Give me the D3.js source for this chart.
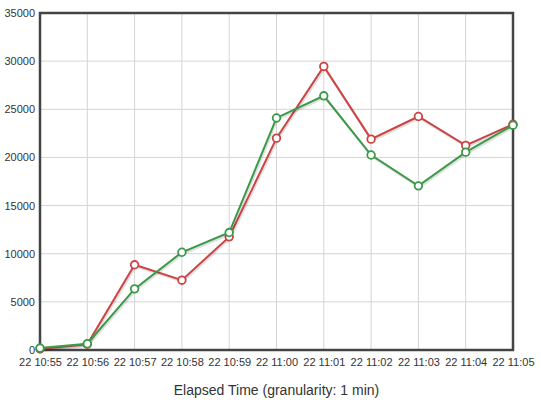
<!DOCTYPE html>
<html>
<head>
<meta charset="utf-8">
<script src="https://cdn.jsdelivr.net/npm/d3@7"></script>
<style>
  body { margin:0; background:#fff; }
  text { font-family:"Liberation Sans", Arial, Helvetica, sans-serif; fill:#333; }
</style>
</head>
<body>
<svg id="chart" width="541" height="405"></svg>
<script>
// minute labels along the x axis
const categories=['22 10:55','22 10:56','22 10:57','22 10:58','22 10:59','22 11:00',
                  '22 11:01','22 11:02','22 11:03','22 11:04','22 11:05'];
// two series, values
const redValues=  [100, 600, 8850, 7250, 11750, 22000, 29450, 21900, 24250, 21250, 23450];
const greenValues=[200, 650, 6350, 10150, 12200, 24100, 26400, 20250, 17050, 20550, 23350];
const yTicks=[0,5000,10000,15000,20000,25000,30000,35000];
const xTitle='Elapsed Time (granularity: 1 min)';

const margin={left:40, right:28, top:13, bottom:55};
const W=541, H=405;
const svg=d3.select('#chart');

let x=d3.scalePoint().domain(categories).range([margin.left, W-margin.right]);
let y=d3.scaleLinear().domain([0,35000]).range([H-margin.bottom, margin.top]);

let grid=svg.append('g');
grid.selectAll('line.h').data(yTicks).join('line')
    .attr('x1',margin.left).attr('x2',W-margin.right)
    .attr('y1',d=>y(d)).attr('y2',d=>y(d))
    .attr('stroke','#d4d4d4').attr('stroke-width',1);
grid.selectAll('line.v').data(categories).join('line')
    .attr('y1',margin.top).attr('y2',H-margin.bottom)
    .attr('x1',d=>x(d)).attr('x2',d=>x(d))
    .attr('stroke','#d4d4d4').attr('stroke-width',1);

// frame
svg.append('rect')
   .attr('x',margin.left).attr('y',margin.top)
   .attr('width',W-margin.right-margin.left).attr('height',H-margin.bottom-margin.top)
   .attr('fill','none').attr('stroke','#444').attr('stroke-width',2.5);

// axes, ticks without tick marks
let yAxis=svg.append('g').attr('transform','translate('+margin.left+',0)')
   .call(d3.axisLeft(y).tickValues(yTicks).tickSize(0).tickPadding(5).tickFormat(d3.format('d')));
let xAxis=svg.append('g').attr('transform','translate(0,'+(H-margin.bottom)+')')
   .call(d3.axisBottom(x).tickSize(0).tickPadding(8));
[yAxis,xAxis].forEach(a=>{
   a.select('.domain').remove();
   a.selectAll('text').attr('font-size',11).attr('font-family','"Liberation Sans", Arial, sans-serif').attr('fill','#333');
});

svg.append('text')
   .attr('x',(margin.left+W-margin.right)/2).attr('y',395)
   .attr('text-anchor','middle').attr('font-size',14).attr('fill','#222')
   .text(xTitle);

const series=[
   {values:redValues,   color:'#cc4444'},
   {values:greenValues, color:'#3a9a48'}
];
let line=d3.line().x((d,i)=>x(categories[i])).y(d=>y(d));

series.forEach(s=>{
   let g=svg.append('g');
   // faint shadow under each line
   g.append('path').datum(s.values).attr('d',line)
    .attr('transform','translate(1,1.5)')
    .attr('fill','none').attr('stroke','rgba(0,0,0,0.12)').attr('stroke-width',2.5);
   g.append('path').datum(s.values).attr('d',line)
    .attr('fill','none').attr('stroke',s.color).attr('stroke-width',2);
   g.selectAll('circle').data(s.values).join('circle')
    .attr('cx',(d,i)=>x(categories[i])).attr('cy',d=>y(d)).attr('r',3.8)
    .attr('fill','#fff').attr('stroke',s.color).attr('stroke-width',1.8);
});
</script>
</body>
</html>
